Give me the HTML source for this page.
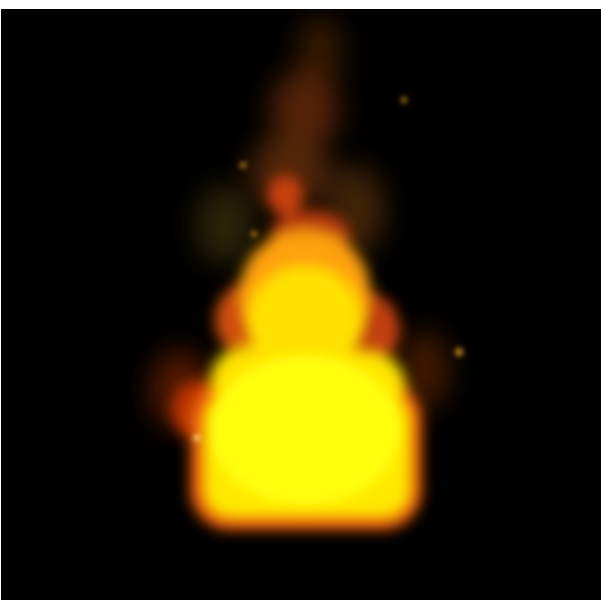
<!DOCTYPE html>
<html><head><meta charset="utf-8"><style>
html,body{margin:0;padding:0;background:#fff;width:601px;height:600px;overflow:hidden}
#stage{position:absolute;left:1px;top:9px;width:600px;height:591px;background:#000}
</style></head><body>
<div id="stage">
<svg width="600" height="591" viewBox="1 9 600 591">
<defs>
<filter id="b8" x="-50%" y="-50%" width="200%" height="200%"><feGaussianBlur stdDeviation="7"/></filter>
<filter id="b14" x="-50%" y="-50%" width="200%" height="200%"><feGaussianBlur stdDeviation="14"/></filter>
<filter id="b4" x="-50%" y="-50%" width="200%" height="200%"><feGaussianBlur stdDeviation="3"/></filter>
</defs>
<g filter="url(#b14)" opacity="0.6">
<ellipse cx="320" cy="50" rx="22" ry="35" fill="#5a2a05"/>
<ellipse cx="305" cy="110" rx="35" ry="40" fill="#8a3a08"/>
<ellipse cx="290" cy="170" rx="40" ry="35" fill="#8a4008"/>
<ellipse cx="225" cy="225" rx="30" ry="40" fill="#4a3a08"/>
<ellipse cx="355" cy="210" rx="30" ry="45" fill="#6a3a08"/>
<ellipse cx="180" cy="390" rx="30" ry="40" fill="#8a2a05"/>
<ellipse cx="425" cy="370" rx="25" ry="40" fill="#6a2a05"/>
</g>
<g filter="url(#b8)">
<ellipse cx="285" cy="195" rx="18" ry="20" fill="#c84010"/>
<ellipse cx="310" cy="235" rx="40" ry="25" fill="#b83a08"/>
<ellipse cx="255" cy="320" rx="40" ry="40" fill="#d05008"/>
<ellipse cx="360" cy="330" rx="40" ry="40" fill="#c04008"/>
<ellipse cx="200" cy="410" rx="28" ry="30" fill="#b83005"/>
<rect x="190" y="380" width="232" height="150" rx="40" fill="#e85808"/>
<ellipse cx="305" cy="290" rx="65" ry="60" fill="#ffa010"/>
</g>
<g filter="url(#b8)">
<rect x="203" y="392" width="208" height="126" rx="28" fill="#ffe800"/>
<ellipse cx="305" cy="320" rx="58" ry="55" fill="#ffe000"/>
<ellipse cx="250" cy="380" rx="40" ry="35" fill="#ffe000"/>
<ellipse cx="365" cy="385" rx="40" ry="35" fill="#ffe400"/>
<ellipse cx="305" cy="430" rx="95" ry="75" fill="#ffff10"/>
</g>
<g filter="url(#b4)" fill="#d09020">
<circle cx="404" cy="100" r="3"/><circle cx="243" cy="165" r="3"/>
<circle cx="254" cy="234" r="3"/><circle cx="459" cy="352" r="4"/>
<circle cx="197" cy="438" r="3" fill="#fff0a0"/>
</g>
</svg>
</div>
</body></html>
